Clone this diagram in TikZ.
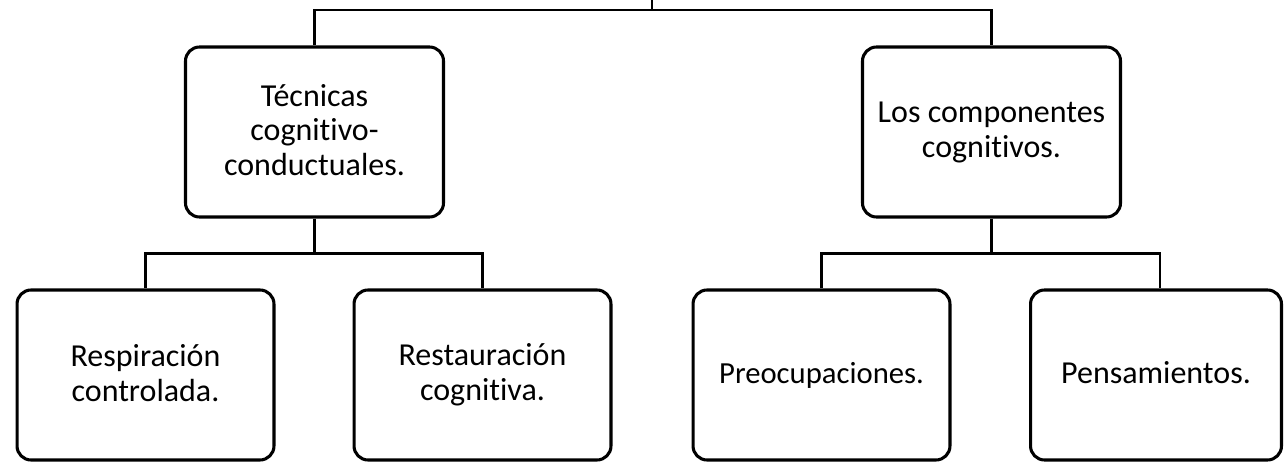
\documentclass[tikz,border=0pt]{standalone}
\usepackage{fontspec}
\setmainfont{Carlito}[Ligatures={NoCommon}]
\newcommand{\ls}{\rule[-3.5pt]{0pt}{19.5pt}}
\begin{document}
\begin{tikzpicture}[x=0.75pt,y=-0.75pt,
  box/.style={draw=black, line width=2.3pt, rounded corners=10.5pt,
    minimum height=127.5pt, inner sep=0pt, align=center,
    font=\fontsize{24}{26}\selectfont},
  conn/.style={draw=black, line width=2pt}]
\useasboundingbox (0,0) rectangle (1284,463);
\node[box, minimum width=193.5pt] (A) at (314.5,132) {\ls Técnicas\\\ls cognitivo-\\\ls conductuales.};
\node[box, minimum width=193.5pt] (B) at (991.5,132) {\ls Los componentes\\\ls cognitivos.};
\node[box, minimum width=192.7pt] (C) at (145.5,375) {\ls Respiración\\\ls controlada.};
\node[box, minimum width=192.7pt] (D) at (482.5,375) {\ls Restauración\\\ls cognitiva.};
\node[box, minimum width=192.7pt, font=\fontsize{23}{26}\selectfont] (E) at (821.5,375) {\ls Preocupaciones.};
\node[box, minimum width=188.2pt] (F) at (1156,375) {\ls Pensamientos.};
\coordinate (top) at (652,0);
\coordinate (jt) at (652,10);
\draw[conn] (top) -- (jt);
\draw[conn] (A.north) |- (jt) -| (B.north);
\draw[conn] (A.south) -- ++(0,35) coordinate (jA);
\draw[conn] (C.north) |- (jA) -| (D.north);
\draw[conn] (B.south) -- ++(0,35) coordinate (jB);
\draw[conn] (E.north) |- (jB) -| ([xshift=3pt]F.north);
\end{tikzpicture}
\end{document}
